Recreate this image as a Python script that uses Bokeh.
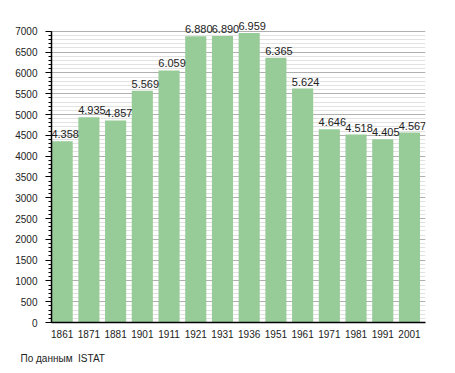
from bokeh.plotting import figure
from bokeh.models import ColumnDataSource, Range1d, FixedTicker, LabelSet, Title
from bokeh.embed import file_html
from bokeh.resources import INLINE
from bokeh.core.properties import value

years = ["1861", "1871", "1881", "1901", "1911", "1921", "1931", "1936", "1951", "1961", "1971", "1981", "1991", "2001"]
population = [4358, 4935, 4857, 5569, 6059, 6880, 6890, 6959, 6365, 5624, 4646, 4518, 4405, 4567]
y_ticks = list(range(0, 7001, 500))
y_minor = list(range(0, 7001, 100))

xs = [i + 0.4 for i in range(len(years))]
labels = [f"{v:,}".replace(",", ".") for v in population]
src = ColumnDataSource(dict(x=xs, top=population, lab=labels))

p = figure(width=455, height=373, output_backend="svg", toolbar_location=None,
           x_range=Range1d(0, len(years)), y_range=Range1d(0, 7500),
           min_border_left=51, min_border_right=30, min_border_top=10, min_border_bottom=0)
p.outline_line_color = None
p.background_fill_color = "white"
p.border_fill_color = "white"

p.vbar(x="x", top="top", width=0.79, source=src, fill_color="#97cb97", line_color=None)

p.add_layout(LabelSet(x="x", y="top", text="lab", source=src, text_align="center",
                      text_baseline="bottom", x_offset=3, y_offset=3,
                      text_font=value("Liberation Sans"),
                      text_font_size="11px", text_color="#222222"))

yt = FixedTicker(ticks=y_ticks, minor_ticks=y_minor)
p.xgrid.grid_line_color = None
p.ygrid.ticker = yt
p.ygrid.grid_line_color = "#b0b0b0"
p.ygrid.minor_grid_line_color = "#e2e2e2"
p.ygrid.level = "underlay"

p.yaxis.ticker = yt
p.yaxis.bounds = (0, 7000)
p.yaxis.major_tick_out = 6
p.yaxis.major_tick_in = 0
p.yaxis.minor_tick_out = 3
p.yaxis.minor_tick_in = 0
p.yaxis.major_label_standoff = 8
p.yaxis.major_label_text_font = "Liberation Sans"
p.yaxis.major_label_text_font_size = "10px"
p.yaxis.major_label_text_color = "#222222"
p.yaxis.axis_line_color = "black"
p.yaxis.axis_line_width = 1.5

p.xaxis.ticker = FixedTicker(ticks=xs)
p.xaxis.major_label_overrides = {x: y for x, y in zip(xs, years)}
p.xaxis.major_tick_line_color = None
p.xaxis.minor_tick_line_color = None
p.xaxis.major_label_standoff = 1
p.xaxis.major_label_text_font = "Liberation Sans"
p.xaxis.major_label_text_font_size = "10px"
p.xaxis.major_label_text_color = "#222222"
p.xaxis.axis_line_color = "black"
p.xaxis.axis_line_width = 1.5

p.add_layout(Title(text="По данным\u00a0 ISTAT", align="left", offset=-31, standoff=20,
                   text_font="Liberation Sans", text_font_size="10px",
                   text_font_style="normal", text_color="#222222"), "below")

open("out.html", "w").write(file_html(p, INLINE))
